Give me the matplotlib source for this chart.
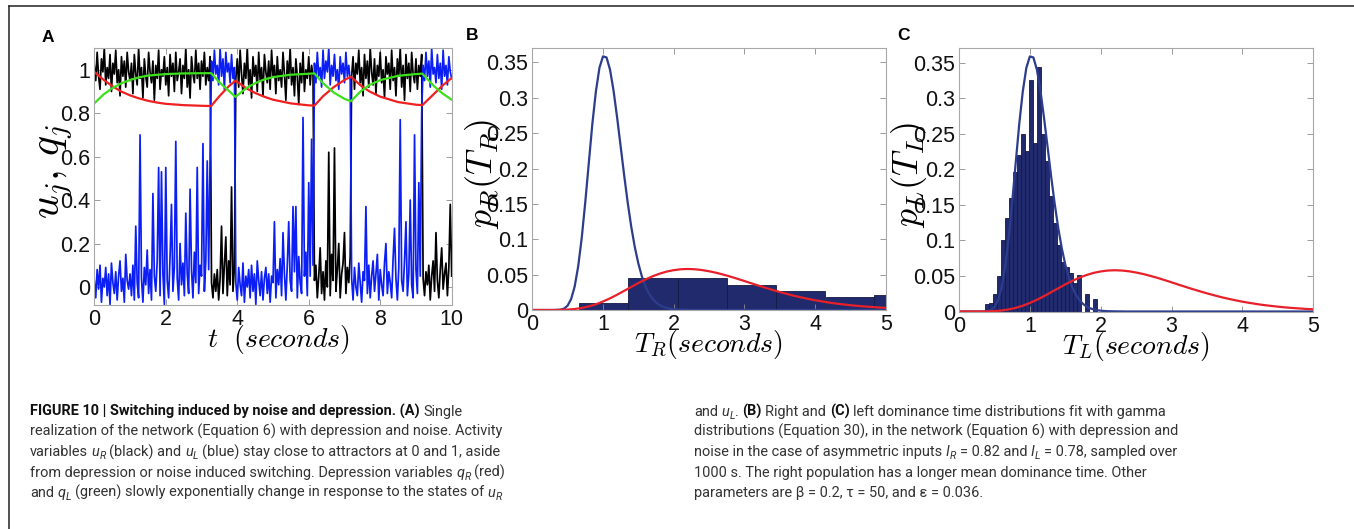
import numpy as np
import matplotlib
matplotlib.use("Agg")
from matplotlib import pyplot as plt
from matplotlib import font_manager
from matplotlib.lines import Line2D

W, H = 1354, 529

## Data ##
# Panel A: activities sampled every 0.04 s (0 .. 10 s)
A_DT = 0.04
U_RIGHT = [  # black, u_R
    1.02, 0.95, 1.08, 0.97, 0.91, 1.05, 0.99, 1.10, 0.93, 1.01, 0.96, 1.07, 0.90, 1.03, 0.98, 1.09, 0.94, 1.00, 0.88, 1.06, 0.97, 1.04, 0.92, 1.08, 0.99,
    0.95, 1.03, 0.89, 1.07, 0.98, 0.93, 1.10, 0.96, 1.01, 0.87, 1.05, 0.97, 0.92, 1.08, 0.99, 0.94, 1.04, 0.86, 1.02, 0.96, 1.09, 0.91, 1.00, 0.97, 1.06,
    0.93, 1.01, 0.88, 1.07, 0.97, 1.03, 0.90, 1.08, 0.95, 0.99, 1.05, 0.89, 1.02, 0.96, 1.10, 0.92, 1.00, 0.87, 1.06, 0.98, 0.94, 1.09, 0.96, 1.03, 0.91,
    1.04, 0.97, 1.08, 0.93, 1.01, 0.95, 1.06,
    0.02, -0.05, 0.06, -0.02, 0.08, -0.06, 0.04, 0.28, -0.03, 0.10, 0.23, -0.04, 0.12, 0.01, 0.46, -0.02, 0.09,
    0.96,
    1.05, 0.92, 1.09, 0.98, 0.89, 1.03, 0.96, 1.10, 0.93, 1.00, 0.87, 1.06, 0.97, 1.02, 0.90, 1.08, 0.95, 1.01, 0.88, 1.07, 0.99, 0.94, 1.04, 0.91, 1.09,
    0.97, 1.02, 0.89, 1.06, 0.95, 1.00, 0.92, 1.08, 0.98, 0.86, 1.04, 0.96, 1.10, 0.93, 1.01, 0.88, 1.05, 0.97, 0.84, 1.03, 0.94, 1.08, 0.90, 1.00, 0.96,
    1.06, 0.93, 1.02, 0.97,
    0.03, 0.10, -0.05, 0.05, 0.18, -0.03, 0.07, -0.06, 0.12, 0.00, 0.62, -0.04, 0.15, 0.03, 0.64, -0.02, 0.08, 0.20, -0.05, 0.06, 0.11,
    0.25, -0.03, 0.09, 0.02, 0.14,
    0.97, 1.06, 0.91, 1.03, 0.98, 1.09, 0.94, 1.01, 0.88, 1.07, 0.96, 1.04, 0.92, 1.10, 0.99, 0.93, 1.05, 0.89, 1.02, 0.97,
    1.08, 0.94, 1.00, 0.87, 1.06, 0.98, 1.03, 0.91, 1.09, 0.95, 1.01, 0.88, 1.05, 0.97, 1.10, 0.92, 1.02, 0.86, 1.07, 0.96, 1.03, 0.90, 1.08, 0.98, 0.94,
    1.05, 0.91, 1.02, 0.97, 1.07,
    0.04, -0.04, 0.07, 0.01, 0.10, -0.06, 0.05, 0.12, -0.02, 0.25, 0.03, -0.05, 0.08, 0.18, -0.01, 0.06, 0.11, -0.04, 0.09, 0.38,
    0.05,
]
U_LEFT = [  # blue, u_L
    0.03, -0.05, 0.08, -0.01, 0.10, -0.07, 0.04, 0.00, 0.09, -0.04, 0.06, -0.08, 0.11, 0.02, -0.03, 0.07, -0.06, 0.05, 0.12, -0.02, 0.04, -0.07, 0.15, 0.03, -0.01,
    0.06, -0.04, 0.10, -0.06, 0.28, 0.02, -0.05, 0.70, 0.04, -0.07, 0.09, 0.01, 0.17, -0.03, 0.08, -0.06, 0.43, 0.05, -0.02, 0.12, 0.55, -0.04, 0.53, 0.06, -0.08,
    0.55, 0.03, -0.05, 0.14, 0.38, -0.02, 0.09, 0.67, 0.04, -0.06, 0.20, 0.01, 0.11, -0.04, 0.34, 0.06, -0.03, 0.45, 0.08, -0.05, 0.16, 0.02, 0.55, -0.03, 0.10,
    0.05, 0.66, -0.02, 0.12, 0.58, 0.08, 0.60,
    1.04, 0.95, 1.09, 0.98, 1.02, 0.93, 1.10, 0.97, 1.05, 0.91, 1.08, 0.99, 1.03, 0.94, 1.07, 0.96, 1.01,
    0.02,
    -0.06, 0.09, 0.01, -0.04, 0.11, -0.07, 0.05, 0.00, 0.08, -0.05, 0.10, -0.02, 0.06, -0.08, 0.12, 0.03, -0.04, 0.07, -0.06, 0.04, 0.09, -0.03, 0.06, -0.07, 0.05,
    0.02, 0.30, -0.05, 0.08, 0.01, 0.13, -0.04, 0.25, 0.06, -0.06, 0.10, 0.30, 0.03, -0.02, 0.37, 0.07, 0.37, -0.05, 0.14, 0.02, -0.03, 0.78, 0.05, 0.16, -0.04,
    0.48, 0.05, 0.68, 0.10,
    1.03, 0.94, 1.08, 0.97, 1.01, 0.92, 1.09, 0.96, 1.04, 0.99, 1.10, 0.93, 1.02, 0.97, 1.07, 0.95, 1.00, 0.91, 1.06, 0.98, 1.03,
    0.94, 1.08, 0.97, 1.02, 0.95,
    0.04, -0.06, 0.09, 0.00, -0.04, 0.11, 0.02, -0.07, 0.07, 0.03, 0.37, -0.03, 0.10, -0.05, 0.05, 0.12, -0.02, 0.06, 0.15, -0.06,
    0.08, 0.01, -0.04, 0.11, 0.20, -0.03, 0.07, 0.02, -0.05, 0.13, 0.27, 0.04, -0.06, 0.09, 0.77, 0.03, -0.02, 0.12, 0.30, -0.04, 0.06, 0.40, 0.01, -0.05, 0.70,
    0.08, -0.03, 0.48, 0.05, 0.80,
    1.02, 0.95, 1.08, 0.97, 1.04, 0.92, 1.10, 0.98, 1.01, 0.94, 1.07, 0.96, 1.03, 0.91, 1.09, 0.97, 1.02, 0.93, 1.06, 0.99,
    0.96,
]
# depression variables
Q_RIGHT_T = [0, 0.25, 0.5, 0.75, 1.0, 1.25, 1.5, 1.75, 2.0, 2.5, 3.0, 3.27, 3.5, 3.75, 3.95, 4.25, 4.5, 4.75,
             5.0, 5.5, 6.0, 6.16, 6.4, 6.7, 7.0, 7.18, 7.45, 7.7, 8.0, 8.5, 9.0, 9.18, 9.5, 9.75, 10.0]
Q_RIGHT = [0.99, 0.955, 0.925, 0.900, 0.882, 0.868, 0.857, 0.849, 0.843, 0.837, 0.834, 0.833, 0.878, 0.922, 0.950,
           0.915, 0.893, 0.876, 0.862, 0.845, 0.836, 0.835, 0.878, 0.920, 0.953, 0.968, 0.928, 0.900, 0.876, 0.851,
           0.839, 0.837, 0.888, 0.928, 0.962]
Q_LEFT_T = [0, 0.25, 0.5, 0.75, 1.0, 1.25, 1.5, 2.0, 2.5, 3.0, 3.27, 3.5, 3.75, 3.95, 4.25, 4.5, 4.75, 5.0, 5.5,
            6.16, 6.4, 6.7, 7.0, 7.18, 7.45, 7.7, 8.0, 8.5, 9.0, 9.18, 9.5, 9.75, 10.0]
Q_LEFT = [0.845, 0.885, 0.915, 0.937, 0.953, 0.965, 0.973, 0.980, 0.983, 0.984, 0.984, 0.942, 0.905, 0.875, 0.915,
          0.938, 0.955, 0.966, 0.977, 0.983, 0.938, 0.895, 0.866, 0.855, 0.900, 0.930, 0.952, 0.972, 0.980, 0.982,
          0.925, 0.890, 0.862]
A_YTICKS = [0, 0.2, 0.4, 0.6, 0.8, 1]
A_YTICKLABELS = ["0", "0.2", "0.4", "0.6", "0.8", "1"]

# Panels B and C: gamma fits (same in both)
BLUE_FIT_X = list(np.linspace(0, 2.5, 51)) + [5.0]
BLUE_FIT = [0, 0, 0, 0, 0, 0, 0.0000, 0.0001, 0.0005, 0.0020, 0.0062, 0.0156, 0.0334, 0.0622, 0.1025, 0.1530,
            0.2086, 0.2635, 0.3092, 0.3424, 0.3586, 0.3571, 0.3397, 0.3099, 0.2721, 0.2314, 0.1902, 0.1517, 0.1177,
            0.0891, 0.0659, 0.0476, 0.0337, 0.0234, 0.0159, 0.0107, 0.0070, 0.0046, 0.0029, 0.0018, 0.0011, 0.0007,
            0.0004, 0.0003, 0.0002, 0.0001, 0.0001, 0, 0, 0, 0, 0]
RED_FIT_X = np.linspace(0, 5, 51)
RED_FIT = [0, 0, 0.0000, 0.0000, 0.0002, 0.0006, 0.0014, 0.0029, 0.0051, 0.0081, 0.0120, 0.0165, 0.0216, 0.0271,
           0.0326, 0.0381, 0.0431, 0.0476, 0.0513, 0.0543, 0.0563, 0.0576, 0.0580, 0.0576, 0.0565, 0.0548, 0.0527,
           0.0501, 0.0473, 0.0442, 0.0410, 0.0377, 0.0345, 0.0314, 0.0284, 0.0255, 0.0228, 0.0202, 0.0179, 0.0158,
           0.0138, 0.0121, 0.0105, 0.0091, 0.0079, 0.0068, 0.0058, 0.0050, 0.0043, 0.0036, 0.0031]
# B: right dominance times histogram
B_BIN_LEFT = [0.66, 1.36, 2.06, 2.75, 3.45, 4.15, 4.84]
B_BIN_WIDTH = 0.697
B_HIST = [0.0099, 0.0454, 0.0450, 0.0355, 0.0274, 0.0184, 0.0213]
# C: left dominance times histogram
C_BIN_START = 0.36
C_BIN_WIDTH = 0.0566
C_HIST = [0.011, 0.012, 0.025, 0.050, 0.100, 0.132, 0.160, 0.196, 0.220, 0.250, 0.225, 0.325, 0.237, 0.344,
          0.250, 0.212, 0.162, 0.125, 0.094, 0.069, 0.062, 0.054, 0.040, 0.052, 0.0, 0.025, 0.0, 0.018]
P_YTICKS = [0, 0.05, 0.1, 0.15, 0.2, 0.25, 0.3, 0.35]
P_YTICKLABELS = ["0", "0.05", "0.1", "0.15", "0.2", "0.25", "0.3", "0.35"]

# caption: (space before?, text, style)  n=normal b=bold i=italic s=subscript
CAPTION_LEFT = [
    [(0, "FIGURE 10 | Switching induced by noise and depression. (A)", "b"), (1, "Single", "n")],
    [(0, "realization of the network (Equation 6) with depression and noise. Activity", "n")],
    [(0, "variables", "n"), (1, "u", "i"), (0, "R", "s"), (1, "(black) and", "n"), (1, "u", "i"), (0, "L", "s"),
     (1, "(blue) stay close to attractors at 0 and 1, aside", "n")],
    [(0, "from depression or noise induced switching. Depression variables", "n"), (1, "q", "i"), (0, "R", "s"),
     (1, "(red)", "n")],
    [(0, "and", "n"), (1, "q", "i"), (0, "L", "s"),
     (1, "(green) slowly exponentially change in response to the states of", "n"), (1, "u", "i"), (0, "R", "s")],
]
CAPTION_RIGHT = [
    [(0, "and", "n"), (1, "u", "i"), (0, "L", "s"), (0, ".", "n"), (1, "(B)", "b"), (1, "Right and", "n"),
     (1, "(C)", "b"), (1, "left dominance time distributions fit with gamma", "n")],
    [(0, "distributions (Equation 30), in the network (Equation 6) with depression and", "n")],
    [(0, "noise in the case of asymmetric inputs", "n"), (1, "I", "i"), (0, "R", "s"), (1, "= 0.82 and", "n"),
     (1, "I", "i"), (0, "L", "s"), (1, "= 0.78, sampled over", "n")],
    [(0, "1000 s. The right population has a longer mean dominance time. Other", "n")],
    [(0, "parameters are \u03b2 = 0.2, \u03c4 = 50, and \u03b5 = 0.036.", "n")],
]

## Fonts ##
names = {f.name for f in font_manager.fontManager.ttflist}
CAP_FONT = ["Roboto", "DejaVu Sans"] if "Roboto" in names else ["Liberation Sans", "DejaVu Sans"]
plt.rcParams["font.family"] = ["Liberation Sans", "DejaVu Sans"]


def px_axes(left, top, right, bottom):
    return [left / W, 1 - bottom / H, (right - left) / W, (bottom - top) / H]


def style(ax):
    for s in ax.spines.values():
        s.set_color("#a8a8a8")
        s.set_linewidth(0.8)
    ax.tick_params(direction="in", length=4, width=0.6, color="#8c8c8c", top=True, right=True,
                   labelsize=15.5, pad=3, labelcolor="#111111")


fig = plt.figure(figsize=(W / 100, H / 100), dpi=100)

# frame lines of the figure box
fig.add_artist(Line2D([8.5 / W, 1], [1 - 6 / H, 1 - 6 / H], transform=fig.transFigure, color="#222222", lw=1.1))
fig.add_artist(Line2D([8.5 / W, 8.5 / W], [0, 1 - 6 / H], transform=fig.transFigure, color="#222222", lw=1.1))

# ---- panel A ----
axA = fig.add_axes(px_axes(94.3, 48, 451.7, 305))
tA = np.arange(len(U_RIGHT)) * A_DT
axA.plot(tA, U_RIGHT, color="black", lw=1.25)
axA.plot(tA, U_LEFT, color="#0a1ef5", lw=1.25)
axA.plot(Q_RIGHT_T, Q_RIGHT, color="#f02020", lw=1.6)
axA.plot(Q_LEFT_T, Q_LEFT, color="#3ce01c", lw=1.6)
axA.set_xlim(0, 10)
axA.set_ylim(-0.083, 1.1)
axA.set_xticks([0, 2, 4, 6, 8, 10])
axA.set_yticks(A_YTICKS)
axA.set_yticklabels(A_YTICKLABELS)
style(axA)
axA.set_ylabel(r"$u_j,\, q_j$", fontsize=30, math_fontfamily="cm", va="center")
axA.yaxis.set_label_coords(-0.11, 0.52)
axA.set_xlabel(r"$t\ \ (seconds)$", fontsize=20, math_fontfamily="cm", va="center")
axA.xaxis.set_label_coords(0.514, -0.136)

# ---- panels B and C ----
def dist_panel(rect, left_edges, width, heights, ylab, xlab):
    ax = fig.add_axes(rect)
    ax.bar(left_edges, heights, width=width, align="edge", color="#212a6d",
           edgecolor="#141a45", linewidth=0.6)
    ax.plot(BLUE_FIT_X, BLUE_FIT, color="#2c3d8e", lw=1.6)
    ax.plot(RED_FIT_X, RED_FIT, color="#e8202a", lw=1.6)
    ax.set_xlim(0, 5)
    ax.set_ylim(0, 0.37)
    ax.set_xticks([0, 1, 2, 3, 4, 5])
    ax.set_yticks(P_YTICKS)
    ax.set_yticklabels(P_YTICKLABELS)
    style(ax)
    ax.set_ylabel(ylab, fontsize=26, math_fontfamily="cm", va="center")
    ax.yaxis.set_label_coords(-0.14, 0.52)
    ax.set_xlabel(xlab, fontsize=20, math_fontfamily="cm", va="center")
    ax.xaxis.set_label_coords(0.5, -0.133)
    return ax


axB = dist_panel(px_axes(532.3, 48.3, 885.7, 310), B_BIN_LEFT, B_BIN_WIDTH, B_HIST,
                 r"$p_R(T_R)$", r"$T_R(seconds)$")
c_left = C_BIN_START + C_BIN_WIDTH * np.arange(len(C_HIST))
axC = dist_panel(px_axes(959, 48.3, 1313.3, 311.5), c_left, C_BIN_WIDTH, C_HIST,
                 r"$p_L(T_L)$", r"$T_L(seconds)$")

for lab, x, y in [("A", 48, 37), ("B", 472, 35), ("C", 903, 35)]:
    fig.text(x / W, 1 - y / H, lab, fontsize=12.5, fontweight="bold", ha="center", va="center")

# ---- caption ----
renderer = fig.canvas.get_renderer()
SEG_STYLE = {
    "n": dict(fontweight="normal", fontstyle="normal", color="#333333"),
    "b": dict(fontweight="bold", fontstyle="normal", color="#111111"),
    "i": dict(fontweight="normal", fontstyle="italic", color="#333333"),
    "s": dict(fontweight="normal", fontstyle="italic", color="#333333"),
}


def text_width(s, size, st="n"):
    t = fig.text(0, 0, "|" + s + "|", fontsize=size, family=CAP_FONT, **SEG_STYLE[st])
    w = t.get_window_extent(renderer).width
    t.remove()
    t = fig.text(0, 0, "||", fontsize=size, family=CAP_FONT, **SEG_STYLE[st])
    w -= t.get_window_extent(renderer).width
    t.remove()
    return w


cap_size = 11 * 483 / text_width(CAPTION_RIGHT[1][0][1], 11)
space = text_width(" ", cap_size)


def caption_block(x0, lines):
    for i, parts in enumerate(lines):
        x = x0
        y = 415.7 + 20.3 * i
        for gap, s, st in parts:
            x += space * gap
            size = cap_size * (0.72 if st == "s" else 1.0)
            yy = y + (0.22 * cap_size * 100 / 72 if st == "s" else 0)
            fig.text(x / W, 1 - yy / H, s, fontsize=size, family=CAP_FONT, va="baseline", **SEG_STYLE[st])
            x += text_width(s, size, st)


caption_block(30, CAPTION_LEFT)
caption_block(694, CAPTION_RIGHT)

fig.savefig("out.png", dpi=100)
